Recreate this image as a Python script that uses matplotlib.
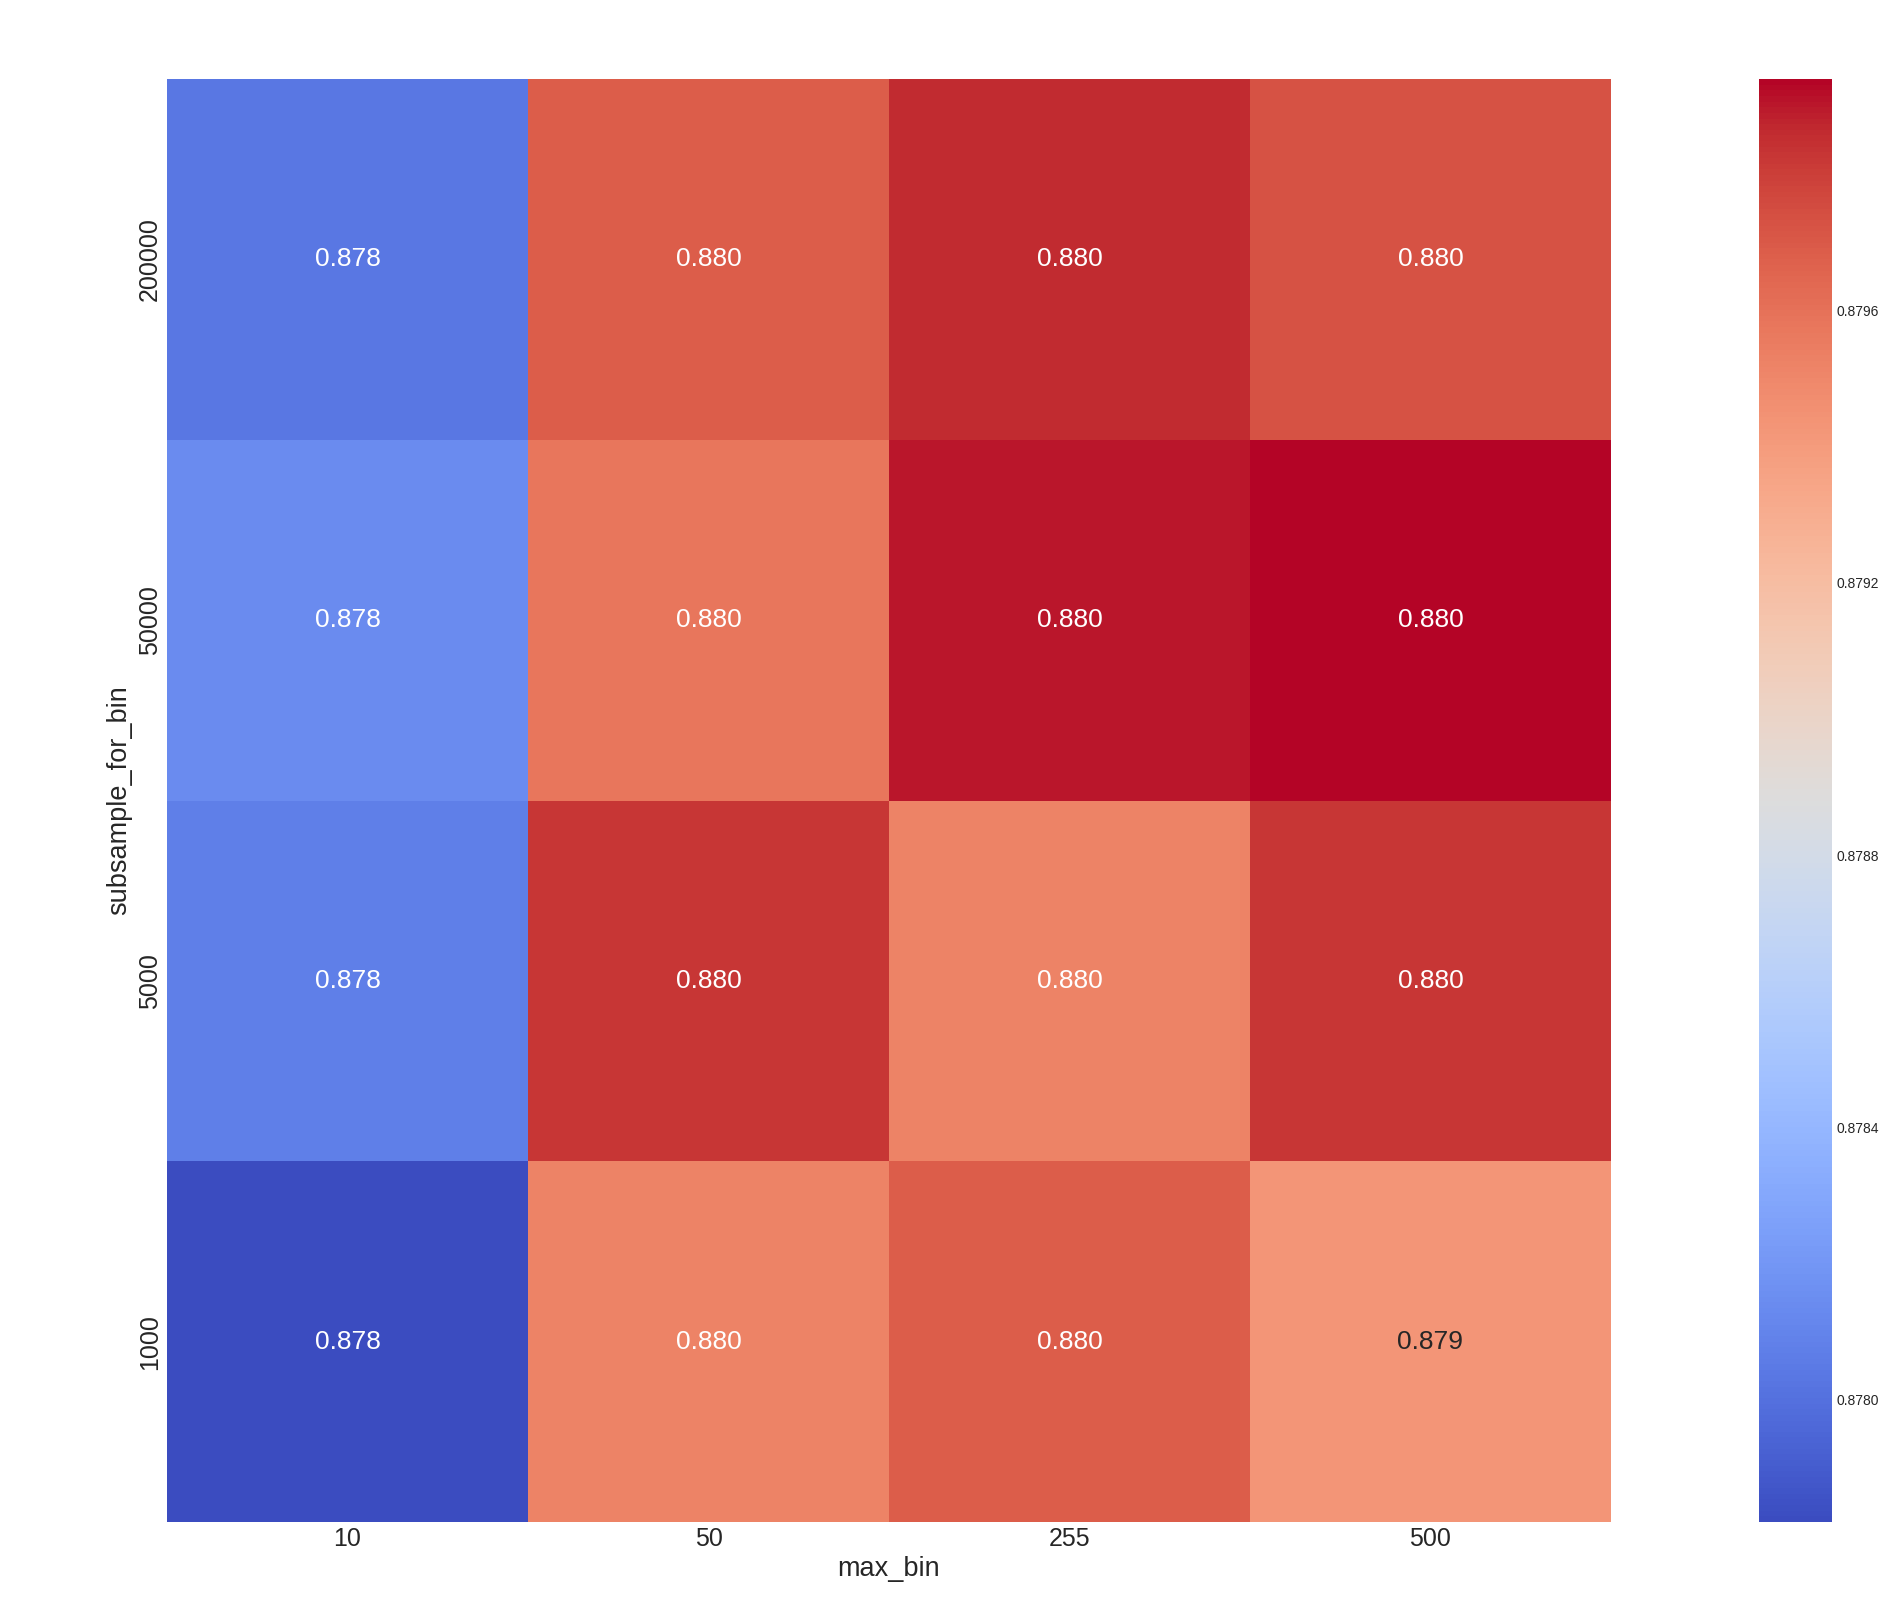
import numpy as np
import pandas as pd
import matplotlib
matplotlib.use("Agg")
import matplotlib.pyplot as plt
import seaborn as sns

# параметры сетки
max_bin = [10, 50, 255, 500]
subsample_for_bin = [200000, 50000, 5000, 1000]

# точность (оценка по цвету ячеек)
scores_200000 = [0.87803, 0.87969, 0.87986, 0.87973]
scores_50000 = [0.87814, 0.87958, 0.87990, 0.87994]
scores_5000 = [0.87807, 0.87983, 0.87952, 0.87983]
scores_1000 = [0.87782, 0.87952, 0.87969, 0.87943]

sns.set_style("white")
plt.rcParams["font.family"] = ["Liberation Sans", "DejaVu Sans"]

df = pd.DataFrame(
    [scores_200000, scores_50000, scores_5000, scores_1000],
    index=pd.Index(subsample_for_bin, name="subsample_for_bin"),
    columns=pd.Index(max_bin, name="max_bin"),
)

fig = plt.figure(figsize=(18.87, 16.04), dpi=100)
ax = fig.add_axes([0.0885, 0.0511, 0.7652, 0.8996])
cax = fig.add_axes([0.9322, 0.0511, 0.0387, 0.8996])

sns.heatmap(df, ax=ax, cbar_ax=cax, cmap="coolwarm", annot=True, fmt=".3f",
            annot_kws={"size": 19})

ax.tick_params(axis="both", labelsize=18, length=0)
ax.set_xlabel("max_bin", fontsize=19.5)
ax.set_ylabel("subsample_for_bin", fontsize=19.5)
cax.tick_params(labelsize=10, length=0)
cax.yaxis.set_major_locator(matplotlib.ticker.MultipleLocator(0.0004))
cax.yaxis.set_major_formatter(matplotlib.ticker.FormatStrFormatter("%.4f"))

fig.savefig("out.png", dpi=100)
